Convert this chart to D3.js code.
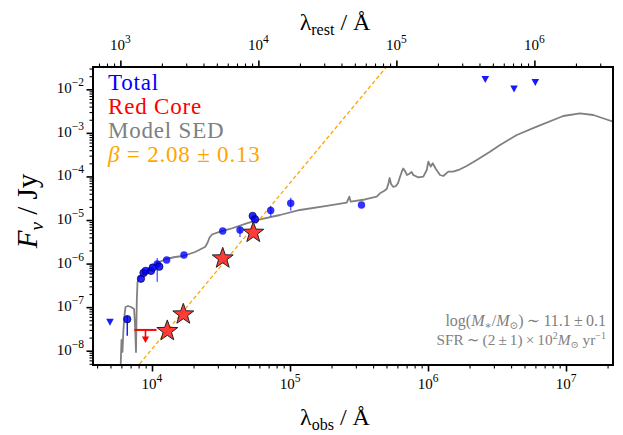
<!DOCTYPE html>
<html>
<head>
<meta charset="utf-8">
<script src="https://cdn.jsdelivr.net/npm/d3@7"></script>
<style>
body{margin:0;background:#fff;}
svg text{font-family:"Liberation Serif","DejaVu Serif",serif;}
</style>
</head>
<body>
<svg id="chart" width="623" height="435"></svg>
<script>
// redshift used for the rest-frame axis on top
var redshift = 4.9;

// total photometry, dark edged points
var totalLamA = [6620, 8320, 8680, 9000, 9840, 10120, 11300, 53660, 55770];
var totalFluxA = [5.3e-8, 4.5e-7, 6.1e-7, 6.8e-7, 6.8e-7, 8.1e-7, 8.5e-7, 1.24e-5, 1.04e-5];
var totalErrLoA = [3.1e-8, 0, 0, 0, 0, 0, 0, 0, 0];
var totalErrHiA = [1.0e-8, 0, 0, 0, 0, 0, 0, 0, 0];

// total photometry, lighter points
var totalLamB = [10920, 12780, 17050, 32540, 43420, 72460, 101200, 329600];
var totalFluxB = [9.8e-7, 1.21e-6, 1.57e-6, 5.6e-6, 5.9e-6, 1.65e-5, 2.42e-5, 2.21e-5];
var totalErrLoB = [6.0e-7, 0, 0, 0, 1.8e-6, 4.6e-6, 7.8e-6, 0];
var totalErrHiB = [3.6e-7, 0, 0, 0, 1.1e-6, 4.4e-6, 8.3e-6, 0];

// total upper limits
var totalLimLam = [4960, 2.60e6, 4.20e6, 5.99e6];
var totalLimFlux = [4.6e-8, 1.70e-2, 1.03e-2, 1.45e-2];

// red core
var coreLam = [12910, 16860, 32540, 54200];
var coreFlux = [3.0e-8, 7.2e-8, 1.39e-6, 5.4e-6];
var coreLimLam = [8970];
var coreLimFlux = [3.0e-8];
var coreLimLamLo = [7450];
var coreLimLamHi = [10800];

// model SED (log10 lambda_obs, log10 F_nu)
var sedLogLam = [3.772, 3.779, 3.786, 3.793, 3.801, 3.808, 3.826, 3.848, 3.870, 3.877, 3.884, 3.890, 3.895, 3.906, 3.920,
  3.971, 4.034, 4.101, 4.167, 4.227, 4.312, 4.384, 4.402, 4.417, 4.435, 4.493, 4.565, 4.686, 4.783, 4.928, 5.072,
  5.266, 5.411, 5.430, 5.440, 5.543, 5.628, 5.652, 5.681, 5.701, 5.714, 5.722, 5.732, 5.749, 5.768, 5.783, 5.797,
  5.812, 5.821, 5.833, 5.848, 5.862, 5.882, 5.893, 5.930, 5.966, 5.991, 6.002, 6.020, 6.034, 6.058, 6.087, 6.111,
  6.147, 6.183, 6.232, 6.280, 6.353, 6.449, 6.522, 6.643, 6.788, 6.980, 7.101, 7.198, 7.343];
var sedLogFlux = [-8.443, -7.754, -8.029, -7.525, -7.180, -6.997, -6.974, -6.997, -7.042, -7.410, -8.029, -6.836, -6.423, -6.320, -6.285,
  -6.147, -5.994, -5.895, -5.849, -5.826, -5.734, -5.619, -5.528, -5.401, -5.333, -5.268, -5.206, -5.075, -4.984, -4.885, -4.770,
  -4.678, -4.603, -4.465, -4.580, -4.529, -4.465, -4.387, -4.334, -4.288, -4.151, -4.036, -4.174, -4.242, -4.219, -4.151, -4.013,
  -3.875, -3.818, -3.875, -3.967, -3.944, -3.898, -3.967, -4.020, -4.006, -3.852, -3.662, -3.776, -3.698, -3.836, -3.967, -3.990,
  -3.891, -3.891, -3.836, -3.760, -3.623, -3.432, -3.278, -3.049, -2.858, -2.613, -2.551, -2.590, -2.744];

// power-law fit through the red core
var fitSlope = 3.81;
var fitLam0 = 1e4;
var fitFlux0 = 1.1e-8;
var fitLamRange = [5000, 1e6];

var xMajor = [1e4, 1e5, 1e6, 1e7];
var xRestMajor = [1e3, 1e4, 1e5, 1e6];
var yMajor = [1e-8, 1e-7, 1e-6, 1e-5, 1e-4, 1e-3, 1e-2];

var legendLabels = ["Total", "Red Core", "Model SED", "\u03b2 = 2.08 \u00b1 0.13"];
var legendColors = ["#0000ff", "#ff0000", "#808080", "#ffa500"];

var svg = d3.select("#chart");
var pLeft = 93, pRight = 613, pTop = 67, pBottom = 365;

var x = d3.scaleLog().domain([3737, 2.19e7]).range([pLeft, pRight]);
var xRest = d3.scaleLog().domain(x.domain().map(function(v){ return v / (1 + redshift); })).range([pLeft, pRight]);
var y = d3.scaleLog().domain([4.7e-9, 3.25e-2]).range([pBottom, pTop]);

function minorTicks(domain){
	var out = [];
	var lo = Math.floor(Math.log10(domain[0])), hi = Math.ceil(Math.log10(domain[1]));
	for (var d = lo; d <= hi; d++){
		for (var k = 2; k <= 9; k++){
			var v = k * Math.pow(10, d);
			if (v >= domain[0] && v <= domain[1]) out.push(v);
		}
	}
	return out;
}

function powText(sel, exp){
	sel.append("tspan").text("10");
	sel.append("tspan").attr("dy", -7).style("font-size", "11.5px").text(exp);
}

function expStr(v){
	return String(Math.round(Math.log10(v))).replace("-", "\u2212");
}

svg.append("defs").append("clipPath").attr("id", "plotclip")
	.append("rect").attr("x", pLeft).attr("y", pTop).attr("width", pRight - pLeft).attr("height", pBottom - pTop);

// axes: major and minor ticks in separate groups
function drawAxis(axisFn, scale, major, minor, transform){
	var gMin = svg.append("g").attr("transform", transform)
		.call(axisFn(scale).tickValues(minor).tickSize(3.5).tickFormat(""));
	var gMaj = svg.append("g").attr("transform", transform)
		.call(axisFn(scale).tickValues(major).tickSize(6.5).tickFormat(""));
	gMin.selectAll(".domain").remove();
	gMaj.selectAll(".domain").remove();
	gMin.selectAll(".tick line").attr("stroke", "#000").attr("stroke-width", 1.1);
	gMaj.selectAll(".tick line").attr("stroke", "#000").attr("stroke-width", 1.6);
}
drawAxis(d3.axisBottom, x, xMajor, minorTicks(x.domain()), "translate(0," + pBottom + ")");
drawAxis(d3.axisTop, xRest, xRestMajor, minorTicks(xRest.domain()), "translate(0," + pTop + ")");
drawAxis(d3.axisLeft, y, yMajor, minorTicks(y.domain()), "translate(" + pLeft + ",0)");

svg.selectAll(".xlab").data(xMajor).enter().append("text")
	.attr("x", function(d){ return x(d); }).attr("y", 389)
	.attr("text-anchor", "middle").style("font-size", "15px")
	.each(function(d){ powText(d3.select(this), expStr(d)); });

svg.selectAll(".xrlab").data(xRestMajor).enter().append("text")
	.attr("x", function(d){ return xRest(d); }).attr("y", 50)
	.attr("text-anchor", "middle").style("font-size", "15px")
	.each(function(d){ powText(d3.select(this), expStr(d)); });

svg.selectAll(".ylab").data(yMajor).enter().append("text")
	.attr("x", 84).attr("y", function(d){ return y(d) + 4; })
	.attr("text-anchor", "end").style("font-size", "15px")
	.each(function(d){ powText(d3.select(this), expStr(d)); });

// axis titles
var tb = svg.append("text").attr("x", 335).attr("y", 425).attr("text-anchor", "middle").style("font-size", "24px");
tb.append("tspan").text("\u03bb");
tb.append("tspan").attr("dy", 5).style("font-size", "16px").text("obs");
tb.append("tspan").attr("dy", -5).text(" / \u00c5");

var tt = svg.append("text").attr("x", 335).attr("y", 30).attr("text-anchor", "middle").style("font-size", "24px");
tt.append("tspan").text("\u03bb");
tt.append("tspan").attr("dy", 5).style("font-size", "16px").text("rest");
tt.append("tspan").attr("dy", -5).text(" / \u00c5");

var ty = svg.append("text").attr("transform", "translate(37,211) rotate(-90)").attr("text-anchor", "middle").style("font-size", "29px");
ty.append("tspan").style("font-style", "italic").text("F");
ty.append("tspan").attr("dy", 6).style("font-size", "19px").style("font-style", "italic").text("\u03bd");
ty.append("tspan").attr("dy", -6).text(" / Jy");

var plot = svg.append("g").attr("clip-path", "url(#plotclip)");

// model SED
var sedLine = d3.line()
	.x(function(d){ return x(Math.pow(10, d[0])); })
	.y(function(d){ return y(Math.pow(10, d[1])); });
plot.append("path").datum(d3.zip(sedLogLam, sedLogFlux)).attr("d", sedLine)
	.attr("fill", "none").attr("stroke", "#808080").attr("stroke-width", 1.8).attr("stroke-linejoin", "round");

// fit line
var fitLine = d3.line()
	.x(function(d){ return x(d); })
	.y(function(d){ return y(fitFlux0 * Math.pow(d / fitLam0, fitSlope)); });
plot.append("path").datum(fitLamRange).attr("d", fitLine)
	.attr("fill", "none").attr("stroke", "#ffa500").attr("stroke-width", 1.3).attr("stroke-dasharray", "4,2.5");

// error bars
function errBars(lam, flux, lo, hi, color, op){
	plot.selectAll(null).data(d3.range(lam.length).filter(function(i){ return lo[i] > 0 || hi[i] > 0; }))
		.enter().append("line")
		.attr("x1", function(i){ return x(lam[i]); }).attr("x2", function(i){ return x(lam[i]); })
		.attr("y1", function(i){ return y(flux[i] - lo[i]); }).attr("y2", function(i){ return y(flux[i] + hi[i]); })
		.attr("stroke", color).attr("stroke-opacity", op).attr("stroke-width", 1.5);
}
errBars(totalLamA, totalFluxA, totalErrLoA, totalErrHiA, "#0000ff", 0.9);
errBars(totalLamB, totalFluxB, totalErrLoB, totalErrHiB, "#0000ff", 0.6);

// upper limit triangles
plot.selectAll(null).data(d3.zip(totalLimLam, totalLimFlux)).enter().append("path")
	.attr("transform", function(d){ return "translate(" + x(d[0]) + "," + y(d[1]) + ")"; })
	.attr("d", "M-3.8,-3.2L3.8,-3.2L0,3.8Z").attr("fill", "#0000ff").attr("fill-opacity", 0.9);

// total points
plot.selectAll(null).data(d3.zip(totalLamB, totalFluxB)).enter().append("circle")
	.attr("cx", function(d){ return x(d[0]); }).attr("cy", function(d){ return y(d[1]); }).attr("r", 3.7)
	.attr("fill", "#0000ff").attr("fill-opacity", 0.8);
plot.selectAll(null).data(d3.zip(totalLamA, totalFluxA)).enter().append("circle")
	.attr("cx", function(d){ return x(d[0]); }).attr("cy", function(d){ return y(d[1]); }).attr("r", 3.7)
	.attr("fill", "#0000ff").attr("fill-opacity", 0.85).attr("stroke", "#000050").attr("stroke-width", 0.7);

// red core upper limit
var lim = plot.selectAll(null).data(d3.range(coreLimLam.length)).enter().append("g");
lim.append("line")
	.attr("x1", function(i){ return x(coreLimLamLo[i]); }).attr("x2", function(i){ return x(coreLimLamHi[i]); })
	.attr("y1", function(i){ return y(coreLimFlux[i]); }).attr("y2", function(i){ return y(coreLimFlux[i]); })
	.attr("stroke", "#ff0000").attr("stroke-width", 2);
lim.append("line")
	.attr("x1", function(i){ return x(coreLimLam[i]); }).attr("x2", function(i){ return x(coreLimLam[i]); })
	.attr("y1", function(i){ return y(coreLimFlux[i]); }).attr("y2", function(i){ return y(coreLimFlux[i]) + 8; })
	.attr("stroke", "#ff0000").attr("stroke-width", 1.6);
lim.append("path")
	.attr("transform", function(i){ return "translate(" + x(coreLimLam[i]) + "," + (y(coreLimFlux[i]) + 6.5) + ")"; })
	.attr("d", "M-3.6,0L3.6,0L0,6.5Z").attr("fill", "#ff0000");

// red core stars
function starPath(R, r){
	var p = [];
	for (var k = 0; k < 10; k++){
		var a = -Math.PI / 2 + k * Math.PI / 5;
		var rr = k % 2 ? r : R;
		p.push([rr * Math.cos(a), rr * Math.sin(a)]);
	}
	return "M" + p.map(function(q){ return q[0].toFixed(2) + "," + q[1].toFixed(2); }).join("L") + "Z";
}
plot.selectAll(null).data(d3.zip(coreLam, coreFlux)).enter().append("path")
	.attr("transform", function(d){ return "translate(" + x(d[0]) + "," + (y(d[1]) + 1) + ")"; })
	.attr("d", starPath(11, 4.4))
	.attr("fill", "#ff1a1a").attr("fill-opacity", 0.85).attr("stroke", "#222").attr("stroke-width", 1);

// frame
svg.append("rect").attr("x", pLeft).attr("y", pTop).attr("width", pRight - pLeft).attr("height", pBottom - pTop)
	.attr("fill", "none").attr("stroke", "#000").attr("stroke-width", 2);

// legend
svg.selectAll(".leg").data(legendLabels).enter().append("text")
	.attr("x", 108).attr("y", function(d, i){ return 89.5 + i * 24.1; })
	.style("font-size", "23px").style("letter-spacing", "0.8px")
	.attr("fill", function(d, i){ return legendColors[i]; })
	.each(function(d, i){
		var t = d3.select(this);
		if (i === 3){
			t.append("tspan").style("font-style", "italic").text("\u03b2");
			t.append("tspan").text(d.slice(1));
		} else {
			t.text(d);
		}
	});

// annotation
var a1 = svg.append("text").attr("x", 606).attr("y", 326).attr("text-anchor", "end").attr("fill", "#808080").style("font-size", "16px");
a1.append("tspan").text("log(");
a1.append("tspan").style("font-style", "italic").text("M");
a1.append("tspan").attr("dy", 3).style("font-size", "10.5px").text("\u2217");
a1.append("tspan").attr("dy", -3).text("/");
a1.append("tspan").style("font-style", "italic").text("M");
a1.append("tspan").attr("dy", 3).style("font-size", "10.5px").text("\u2299");
a1.append("tspan").attr("dy", -3).text(")\u2009\u223c\u200911.1\u2009\u00b1\u20090.1");

var a2 = svg.append("text").attr("x", 606).attr("y", 345).attr("text-anchor", "end").attr("fill", "#808080").style("font-size", "15.3px");
a2.append("tspan").text("SFR\u2009\u223c\u2009(2\u2009\u00b1\u20091)\u2009\u00d7\u200910");
a2.append("tspan").attr("dy", -6).style("font-size", "10px").text("2");
a2.append("tspan").attr("dy", 6).style("font-style", "italic").text("M");
a2.append("tspan").attr("dy", 3).style("font-size", "10px").text("\u2299");
a2.append("tspan").attr("dy", -3).text(" yr");
a2.append("tspan").attr("dy", -6).style("font-size", "10px").text("\u22121");
</script>
</body>
</html>
